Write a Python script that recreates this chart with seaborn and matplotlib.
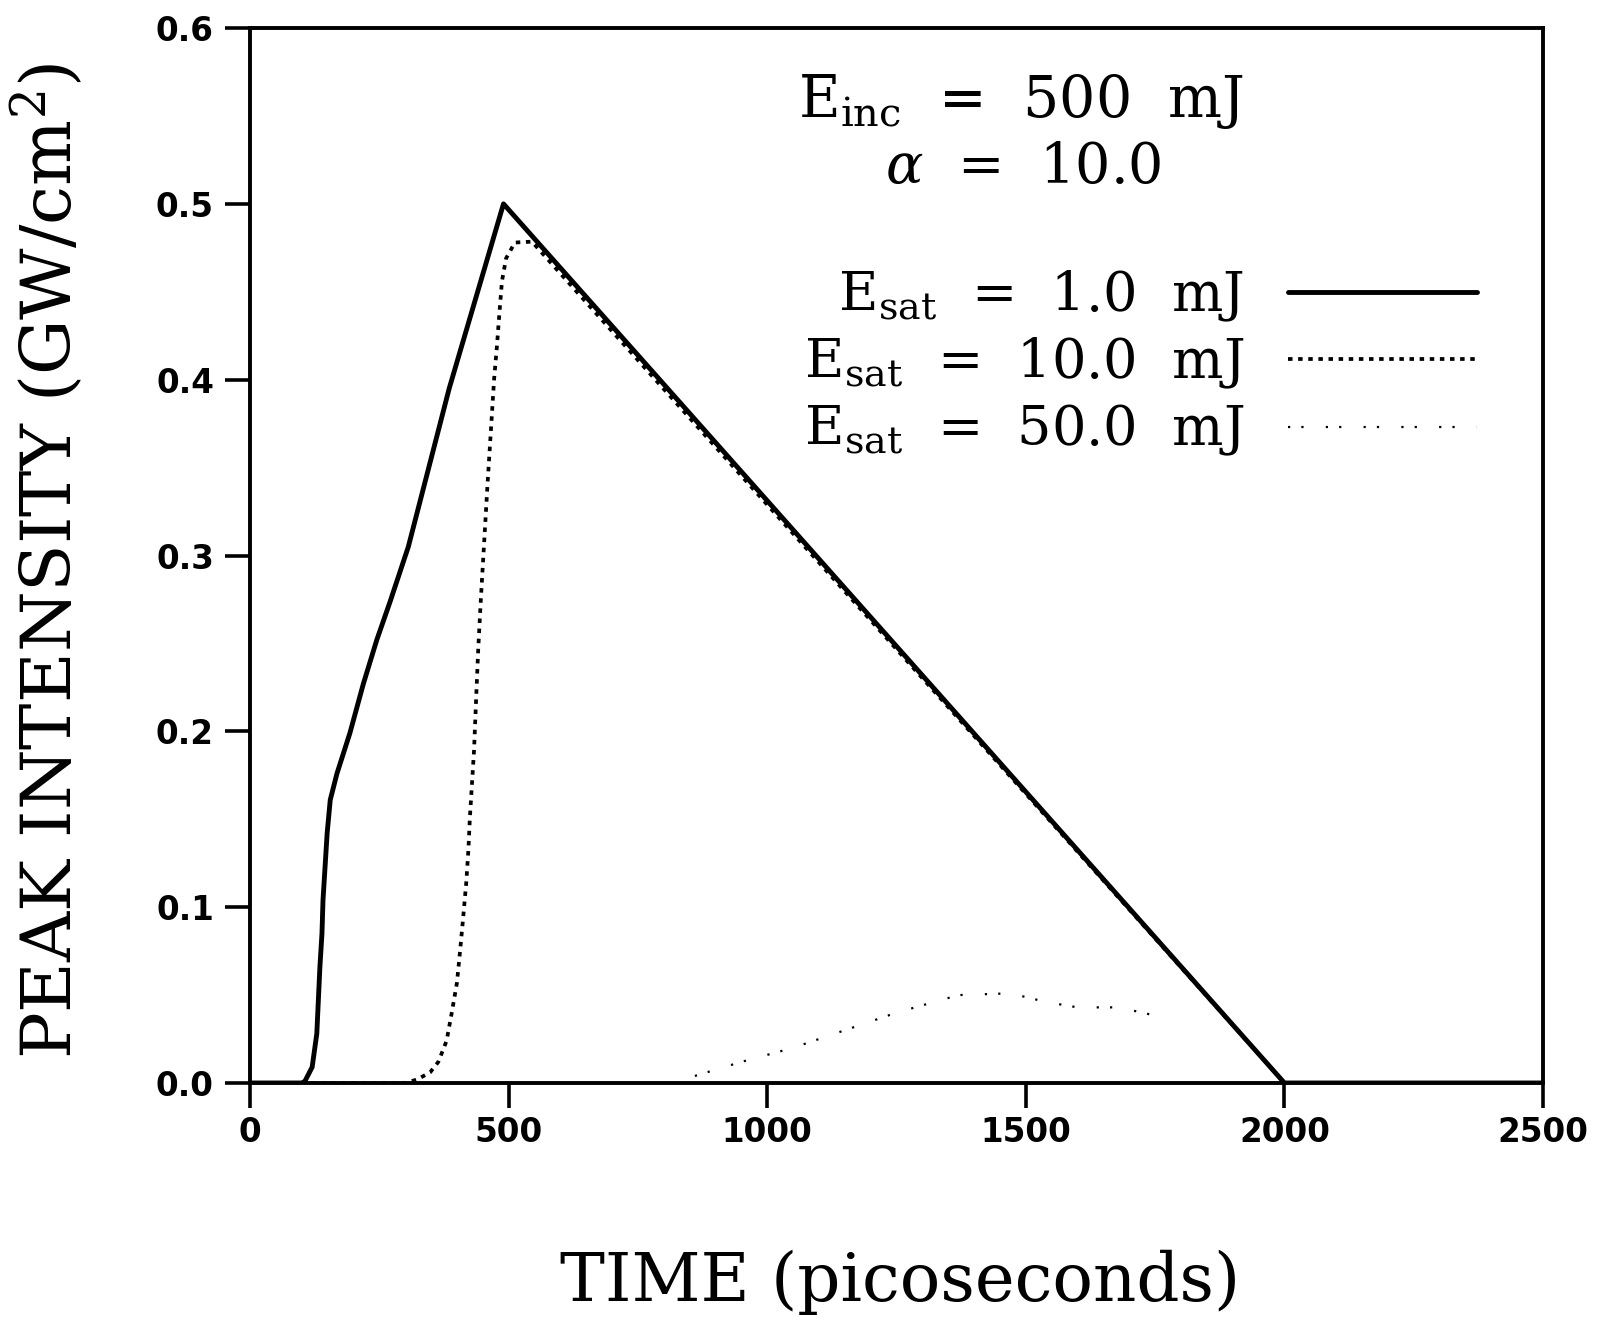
import matplotlib
matplotlib.use('Agg')
import matplotlib.pyplot as plt
import seaborn as sns

# peak intensity curves (time in ps, GW/cm^2)
time_1mj = [0, 100, 106, 120, 129, 132, 135, 139, 141, 145, 149, 155, 168, 193,
            219, 245, 271, 306, 385, 490, 2000, 2500]
peak_1mj = [0.0, 0.0, 0.001, 0.009, 0.028, 0.047, 0.066, 0.085, 0.104, 0.123, 0.142,
            0.161, 0.176, 0.199, 0.227, 0.252, 0.274, 0.305, 0.395, 0.5, 0.0, 0.0]

time_10mj = [0, 300, 323, 348, 364, 380, 390, 400, 406, 412, 418, 422, 425, 429,
             433, 437, 441, 446, 459, 472, 477, 482, 487, 495, 512, 545, 2000, 2500]
peak_10mj = [0.0, 0.0, 0.002, 0.006, 0.012, 0.024, 0.040, 0.057, 0.075, 0.094, 0.114,
             0.132, 0.151, 0.170, 0.189, 0.218, 0.246, 0.274, 0.340, 0.401, 0.418,
             0.4375, 0.456, 0.469, 0.478, 0.4785, 0.0, 0.0]

time_50mj = [860, 950, 1050, 1130, 1250, 1370, 1470, 1540, 1600, 1680, 1740]
peak_50mj = [0.004, 0.012, 0.020, 0.028, 0.040, 0.050, 0.051, 0.046, 0.043, 0.043, 0.039]

legend_labels = [r'$\mathrm{E_{sat}}$  =  1.0  mJ',
                 r'$\mathrm{E_{sat}}$  =  10.0  mJ',
                 r'$\mathrm{E_{sat}}$  =  50.0  mJ']
x_ticks = [0, 500, 1000, 1500, 2000, 2500]
y_ticks = [0.0, 0.1, 0.2, 0.3, 0.4, 0.5, 0.6]

sns.set_theme(style='ticks')
plt.rcParams['font.family'] = ['DejaVu Serif']
plt.rcParams['mathtext.fontset'] = 'dejavuserif'
plt.rcParams['text.color'] = 'black'
plt.rcParams['axes.labelcolor'] = 'black'

fig = plt.figure(figsize=(16, 13.22), dpi=100)
ax = fig.add_axes([0.1563, 0.1808, 0.8081, 0.7980])

sns.lineplot(x=time_1mj, y=peak_1mj, ax=ax, color='black', lw=3.5,
             label=legend_labels[0])
sns.lineplot(x=time_10mj, y=peak_10mj, ax=ax, color='black', lw=2.7,
             linestyle=(0, (1.2, 1.5)), label=legend_labels[1])
sns.lineplot(x=time_50mj, y=peak_50mj, ax=ax, color='black', lw=1.6,
             linestyle=(0, (1, 5, 1, 10)), label=legend_labels[2])

ax.set_xlim(0, 2500)
ax.set_ylim(0, 0.6)
ax.set_xticks(x_ticks)
ax.set_yticks(y_ticks)
ax.set_xticklabels([str(t) for t in x_ticks])
ax.set_yticklabels([f'{v:.1f}' for v in y_ticks])

for side in ['left', 'right', 'top', 'bottom']:
    ax.spines[side].set_linewidth(2.8)
    ax.spines[side].set_color('black')
ax.tick_params(axis='both', direction='out', length=18, width=2.6, colors='black',
               labelsize=23.5)
ax.tick_params(axis='x', pad=6)
ax.tick_params(axis='y', pad=8)
plt.setp(ax.get_xticklabels() + ax.get_yticklabels(), fontfamily='DejaVu Sans',
         fontweight='bold')

ax.set_xlabel('TIME (picoseconds)', fontsize=48.5)
ax.set_ylabel(r'PEAK INTENSITY (GW/cm$^2$)', fontsize=50)
ax.xaxis.set_label_coords(0.503, -0.158)
ax.yaxis.set_label_coords(-0.127, 0.495)

ax.text(0.596, 0.9156, r'$\mathrm{E_{inc}}$  =  500  mJ', transform=ax.transAxes,
        ha='center', va='baseline', fontsize=41)
ax.text(0.598, 0.853, r'$\alpha$  =  10.0', transform=ax.transAxes,
        ha='center', va='baseline', fontsize=40)

ax.legend(frameon=False, markerfirst=False, loc='upper right',
          bbox_to_anchor=(0.949, 0.772), fontsize=39, handlelength=3.5,
          labelspacing=0.22, handletextpad=0.8, borderpad=0, borderaxespad=0)

fig.savefig('out.png', dpi=100, facecolor='white')
